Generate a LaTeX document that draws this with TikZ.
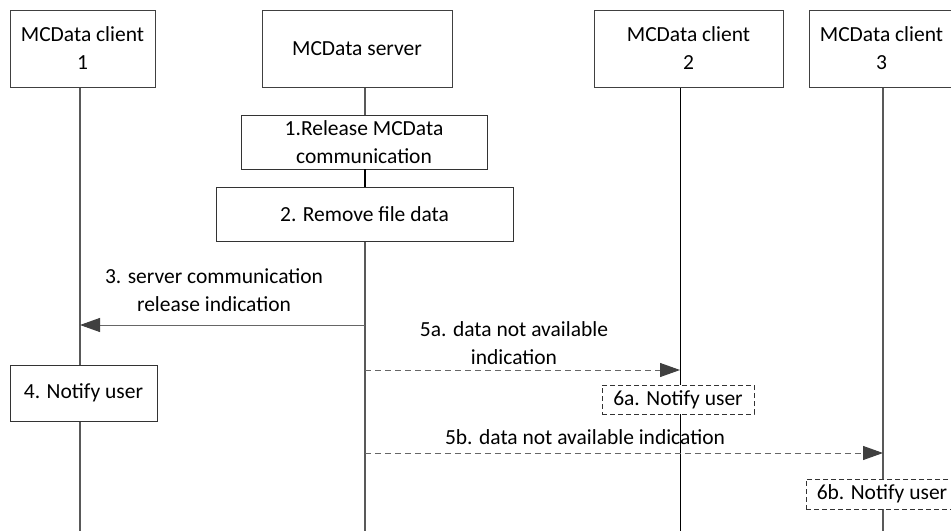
\documentclass[tikz,border=0pt]{standalone}
\usepackage{fontspec}
\setmainfont{Carlito}
\usetikzlibrary{arrows.meta,positioning,calc}

\begin{document}
\begin{tikzpicture}[x=1pt,y=-1pt,
    every node/.style={font=\fontsize{21.5}{28}\selectfont, align=center},
    entity/.style={draw=black!75, fill=white, line width=0.9pt, minimum width=145pt, minimum height=77pt, inner sep=0pt},
    action/.style={draw=black!80, fill=white, line width=0.9pt, inner sep=0pt},
    optaction/.style={action, dash pattern=on 5pt off 3pt},
    lifeline/.style={draw=black!65, line width=1.3pt},
    msg/.style={draw=black!60, line width=1pt, -{Triangle[length=20pt,width=14pt,fill=black!75,color=black!75]}},
    optmsg/.style={msg, dash pattern=on 6pt off 4pt}]
    \useasboundingbox (0,0) rectangle (951,531);
    \clip (0,0) rectangle (951,531);

    % lifelines
    \coordinate (l1) at (80,87);   \coordinate (l1end) at (80,531);
    \coordinate (lS) at (365,87);  \coordinate (lSend) at (365,531);
    \coordinate (l2) at (680,87);  \coordinate (l2end) at (680,531);
    \coordinate (l3) at (883,87);  \coordinate (l3end) at (883,531);
    \draw[lifeline] (l1) -- (l1end);
    \draw[lifeline] (lS) -- (lSend);
    \draw[lifeline, draw=black, line width=1pt] (l2) -- (l2end);
    \draw[lifeline] (l3) -- (l3end);

    % entities
    \node[entity] (client1) at (82.5,48.5) {MCData client\\1};
    \node[entity, minimum width=190pt] (server) at (357,48.5) {MCData server};
    \node[entity, minimum width=189pt] (client2) at (688.5,48.5) {MCData client\\2};
    \node[entity] (client3) at (881.5,48.5) {MCData client\\3};

    % server actions
    \node[action, minimum width=246pt, minimum height=54pt] (release) at (364,142) {1.Release MCData\\communication};
    \node[action, minimum width=297pt, minimum height=54pt] (remove) at (364.5,214) {2. Remove file data};
    \draw[line width=2pt] (release.south -| lS) -- (remove.north -| lS);

    % messages
    \coordinate (y3) at (0,325);
    \coordinate (y5a) at (0,370);
    \coordinate (y5b) at (0,453);
    \draw[msg] (lS |- y3) -- (l1 |- y3);
    \node (m3) at (214,290) {3. server communication\\release indication};

    \node[action, minimum width=147pt, minimum height=56pt] (notify1) at (83.5,393) {4. Notify user};

    \draw[optmsg] (lS |- y5a) -- (l2 |- y5a);
    \node (m5a) at (514,343) {5a. data not available\\indication};

    \node[optaction, minimum width=152pt, minimum height=29pt] (notify2) at (678,399.5) {6a. Notify user};

    \draw[optmsg] (lS |- y5b) -- (l3 |- y5b);
    \node (m5b) at (585,437) {5b. data not available indication};

    \node[optaction, minimum width=152pt, minimum height=30pt] (notify3) at (882,494) {6b. Notify user};
\end{tikzpicture}
\end{document}
